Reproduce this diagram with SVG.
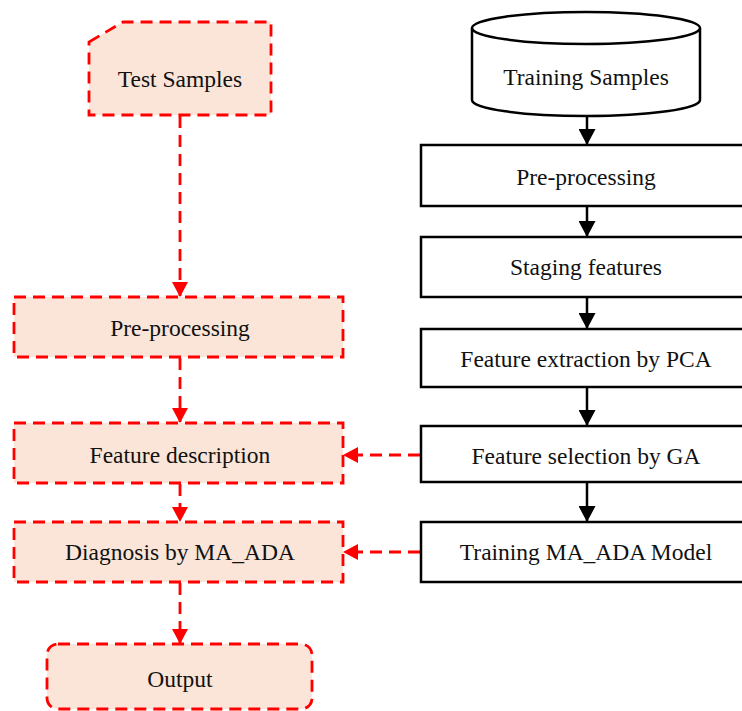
<svg xmlns="http://www.w3.org/2000/svg" width="742" height="711" viewBox="0 0 742 711">
<defs>
<style>
.t{font-family:"Liberation Serif","Times New Roman",serif;font-size:23.5px;fill:#111;text-anchor:middle;dominant-baseline:central}
.red{fill:#FAE5D8;stroke:#FF0000;stroke-width:2.8;stroke-dasharray:12 7}
.blk{fill:#fff;stroke:#000;stroke-width:2.5}
.rl{fill:none;stroke:#FF0000;stroke-width:2.8;stroke-dasharray:12 7}
.bl{fill:none;stroke:#000;stroke-width:2.5}
</style>
<marker id="ar" markerWidth="15" markerHeight="16" refX="14" refY="8" orient="auto" markerUnits="userSpaceOnUse" viewBox="0 0 15 16"><path d="M0,0 L15,8 L0,16 z" fill="#FF0000"/></marker>
<marker id="ab" markerWidth="16" markerHeight="17" refX="15" refY="8.5" orient="auto" markerUnits="userSpaceOnUse" viewBox="0 0 16 17"><path d="M0,0 L16,8.5 L0,17 z" fill="#000"/></marker>
</defs>
<rect width="742" height="711" fill="#fff"/>
<g id="connectors">
<path class="rl" d="M180,116 V296" marker-end="url(#ar)"/>
<path class="rl" d="M180,358 V422" marker-end="url(#ar)"/>
<path class="rl" d="M180,484 V521" marker-end="url(#ar)"/>
<path class="rl" d="M180,583 V643" marker-end="url(#ar)"/>
<path class="rl" d="M420,455 H344" marker-end="url(#ar)"/>
<path class="rl" d="M420,552 H344" marker-end="url(#ar)"/>
<path class="bl" d="M587,116 V144" marker-end="url(#ab)"/>
<path class="bl" d="M587,206 V236" marker-end="url(#ab)"/>
<path class="bl" d="M587,297 V328" marker-end="url(#ab)"/>
<path class="bl" d="M587,387 V425" marker-end="url(#ab)"/>
<path class="bl" d="M587,482 V521" marker-end="url(#ab)"/>
</g>
<g id="test-samples">
<path class="red" d="M89,42 L123,22 H271 V115 H89 Z"/>
<text class="t" x="180" y="79">Test Samples</text>
</g>
<g id="pre-processing-left">
<rect class="red" x="14" y="297" width="329" height="60"/>
<text class="t" x="180" y="328">Pre-processing</text>
</g>
<g id="feature-description">
<rect class="red" x="14" y="423" width="329" height="60"/>
<text class="t" x="180" y="455">Feature description</text>
</g>
<g id="diagnosis">
<rect class="red" x="14" y="522" width="329" height="60"/>
<text class="t" x="180" y="552">Diagnosis by MA_ADA</text>
</g>
<g id="output">
<rect class="red" x="47" y="644" width="265" height="65" rx="11"/>
<text class="t" x="180" y="679">Output</text>
</g>
<g id="training-samples">
<path class="blk" d="M472,28 V100 A114,16 0 0 0 700,100 V28"/>
<ellipse class="blk" cx="586" cy="28" rx="114" ry="16"/>
<text class="t" x="586" y="77">Training Samples</text>
</g>
<g id="pre-processing-right">
<rect class="blk" x="421" y="145" width="340" height="61"/>
<text class="t" x="586" y="177">Pre-processing</text>
</g>
<g id="staging-features">
<rect class="blk" x="421" y="237" width="340" height="60"/>
<text class="t" x="586" y="267">Staging features</text>
</g>
<g id="feature-extraction">
<rect class="blk" x="421" y="329" width="340" height="58"/>
<text class="t" x="586" y="359">Feature extraction by PCA</text>
</g>
<g id="feature-selection">
<rect class="blk" x="421" y="426" width="340" height="56"/>
<text class="t" x="586" y="456">Feature selection by GA</text>
</g>
<g id="training-model">
<rect class="blk" x="421" y="522" width="340" height="60"/>
<text class="t" x="586" y="552">Training MA_ADA Model</text>
</g>
</svg>
